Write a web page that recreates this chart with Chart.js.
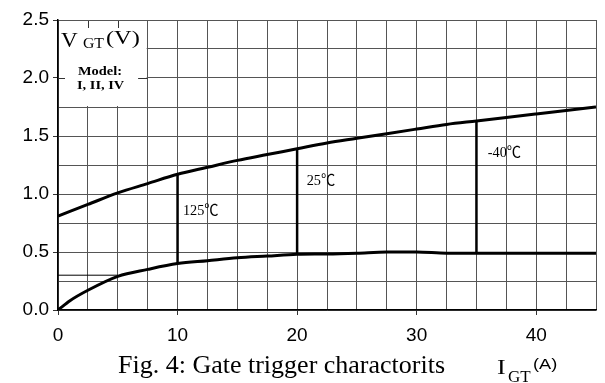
<!DOCTYPE html>
<html>
<head>
<meta charset="utf-8">
<script src="https://cdn.jsdelivr.net/npm/chart.js@4/dist/chart.umd.min.js"></script>
<style>
  html, body { margin: 0; padding: 0; background: #fff; }
  #wrap { width: 605px; height: 383px; }
</style>
</head>
<body>
<div id="wrap"><canvas id="gateChart"></canvas></div>
<script>
// 電流 I_GT (A)
const currentA = [0, 1, 2.5, 5, 7.5, 10, 12.5, 15, 17.5, 20, 22.5, 25, 27.5, 30, 32.5, 35, 37.5, 40, 42.5, 45]
// 上限曲線 V_GT (V)
const upperV = [0.81, 0.85, 0.91, 1.01, 1.09, 1.17, 1.23, 1.29, 1.34, 1.39, 1.44, 1.48, 1.52, 1.56, 1.60, 1.63, 1.66, 1.69, 1.72, 1.75]
// 下限曲線 V_GT (V)
const lowerV = [0, 0.08, 0.17, 0.29, 0.35, 0.40, 0.425, 0.45, 0.465, 0.48, 0.483, 0.49, 0.50, 0.50, 0.49, 0.49, 0.49, 0.49, 0.49, 0.49]
// 溫度分界線
const tempX = [10, 20, 35]
const tempLabels = ['125℃', '25℃', '-40℃']
const tempLabelPos = [[10.45, 0.86], [20.8, 1.12], [35.95, 1.36]]
// 0.3V 細線
const refLineX = [0, 5]
const refLineY = [0.30, 0.30]
// 刻度
const xTickLabels = [0, 10, 20, 30, 40]
const yTickLabels = [0, 0.5, 1.0, 1.5, 2.0, 2.5]

const toPoints = (xs, ys) => xs.map((x, i) => ({ x, y: ys[i] }))

function findUpper (x) {
  return upperV[currentA.indexOf(x)]
}
function findLower (x) {
  return lowerV[currentA.indexOf(x)]
}

const datasets = [
  {
    data: toPoints(currentA, upperV),
    borderColor: '#000',
    borderWidth: 3,
    cubicInterpolationMode: 'monotone',
    pointRadius: 0
  },
  {
    data: toPoints(currentA, lowerV),
    borderColor: '#000',
    borderWidth: 3,
    cubicInterpolationMode: 'monotone',
    pointRadius: 0
  },
  {
    data: toPoints(refLineX, refLineY),
    borderColor: '#000',
    borderWidth: 1,
    pointRadius: 0
  }
]
tempX.forEach((x) => {
  datasets.push({
    data: [{ x, y: findLower(x) }, { x, y: findUpper(x) }],
    borderColor: '#000',
    borderWidth: 2.5,
    pointRadius: 0
  })
})

// 橫向拉長的文字 (原圖有拉伸)
function drawText (ctx, txt, x, y, font, sx = 1) {
  ctx.save()
  ctx.font = font
  ctx.translate(x, y)
  ctx.scale(sx, 1)
  ctx.fillText(txt, 0, 0)
  ctx.restore()
}

// 左上角空白框 + 文字
const annotatePlugin = {
  id: 'annotate',
  beforeDatasetsDraw (chart) {
    const { ctx, scales: { x, y } } = chart
    ctx.save()
    ctx.fillStyle = '#fff'
    const l = x.getPixelForValue(0) + 1
    const r = x.getPixelForValue(7.5) - 1
    const t = y.getPixelForValue(2.5) + 1
    const b = y.getPixelForValue(1.75) - 1
    ctx.fillRect(l, t, r - l, b - t)
    ctx.strokeStyle = '#333'
    ctx.lineWidth = 1
    ctx.beginPath()
    // 小刻度
    const y2 = Math.round(y.getPixelForValue(2.0)) + 0.5
    ctx.moveTo(l, y2)
    ctx.lineTo(l + 6, y2)
    ctx.moveTo(x.getPixelForValue(6.7), y2)
    ctx.lineTo(r + 1, y2)
    ;[2.5, 5].forEach((v) => {
      const px = Math.round(x.getPixelForValue(v)) + 0.5
      ctx.moveTo(px, t)
      ctx.lineTo(px, t + 7)
    })
    ctx.stroke()
    ctx.restore()
  },
  afterDraw (chart) {
    const { ctx, scales: { x, y } } = chart
    ctx.save()
    ctx.fillStyle = '#000'
    ctx.textBaseline = 'alphabetic'
    ctx.textAlign = 'left'
    // V_GT (V)
    drawText(ctx, 'V', 61, 47, '21px "Liberation Serif"', 1.1)
    drawText(ctx, 'GT', 83, 48, '15px "Liberation Serif"', 1.05)
    drawText(ctx, '(V)', 106, 44, '18px "Liberation Serif"', 1.35)
    drawText(ctx, 'Model:', 78, 75, 'bold 12px "Liberation Serif"', 1.2)
    drawText(ctx, 'I, II, IV', 77, 89, 'bold 12px "Liberation Serif"', 1.2)
    // 溫度
    tempLabels.forEach((txt, i) => {
      const p = tempLabelPos[i]
      drawText(ctx, txt, x.getPixelForValue(p[0]), y.getPixelForValue(p[1]) + 5, '15px "Liberation Serif", "Noto Sans CJK SC"', 0.95)
    })
    // 標題
    drawText(ctx, 'Fig. 4: Gate trigger charactorits', 118, 373, '25px "Liberation Serif"', 1.04)
    // I_GT (A)
    drawText(ctx, 'I', 497, 374, '20px "Liberation Serif"', 1.3)
    drawText(ctx, 'GT', 508, 382, '17px "Liberation Serif"', 1)
    drawText(ctx, '(A)', 533, 369, '14px "Liberation Sans"', 1.3)
    ctx.restore()
  }
}

new Chart(document.getElementById('gateChart'), {
  type: 'line',
  data: { datasets },
  plugins: [annotatePlugin],
  options: {
    responsive: true,
    maintainAspectRatio: false,
    animation: false,
    layout: { padding: { top: 20, right: 8, left: 0, bottom: 0 } },
    plugins: {
      legend: { display: false },
      tooltip: { enabled: false }
    },
    scales: {
      x: {
        type: 'linear',
        min: 0,
        max: 45,
        afterFit (scale) { scale.height = 73 },
        ticks: {
          stepSize: 2.5,
          autoSkip: false,
          maxRotation: 0,
          padding: 9,
          color: '#000',
          font: { family: 'Liberation Sans', size: 19 },
          callback: (v) => xTickLabels.includes(v) ? String(v) : ''
        },
        grid: {
          color: '#555',
          lineWidth: 1,
          tickLength: 5,
          tickColor: (c) => c.tick && xTickLabels.includes(c.tick.value) ? '#333' : 'rgba(0,0,0,0)'
        },
        border: { color: '#000', width: 1.5 }
      },
      y: {
        type: 'linear',
        min: 0,
        max: 2.5,
        afterFit (scale) { scale.width = 58 },
        ticks: {
          stepSize: 0.25,
          autoSkip: false,
          padding: 4,
          color: '#000',
          font: { family: 'Liberation Sans', size: 19 },
          callback: (v) => yTickLabels.some((t) => Math.abs(t - v) < 1e-6) ? v.toFixed(1) : ''
        },
        grid: {
          color: '#555',
          lineWidth: 1,
          tickLength: 5,
          tickColor: (c) => c.tick && yTickLabels.some((t) => Math.abs(t - c.tick.value) < 1e-6) ? '#333' : 'rgba(0,0,0,0)'
        },
        border: { color: '#000', width: 1.5 }
      }
    }
  }
})
</script>
</body>
</html>
